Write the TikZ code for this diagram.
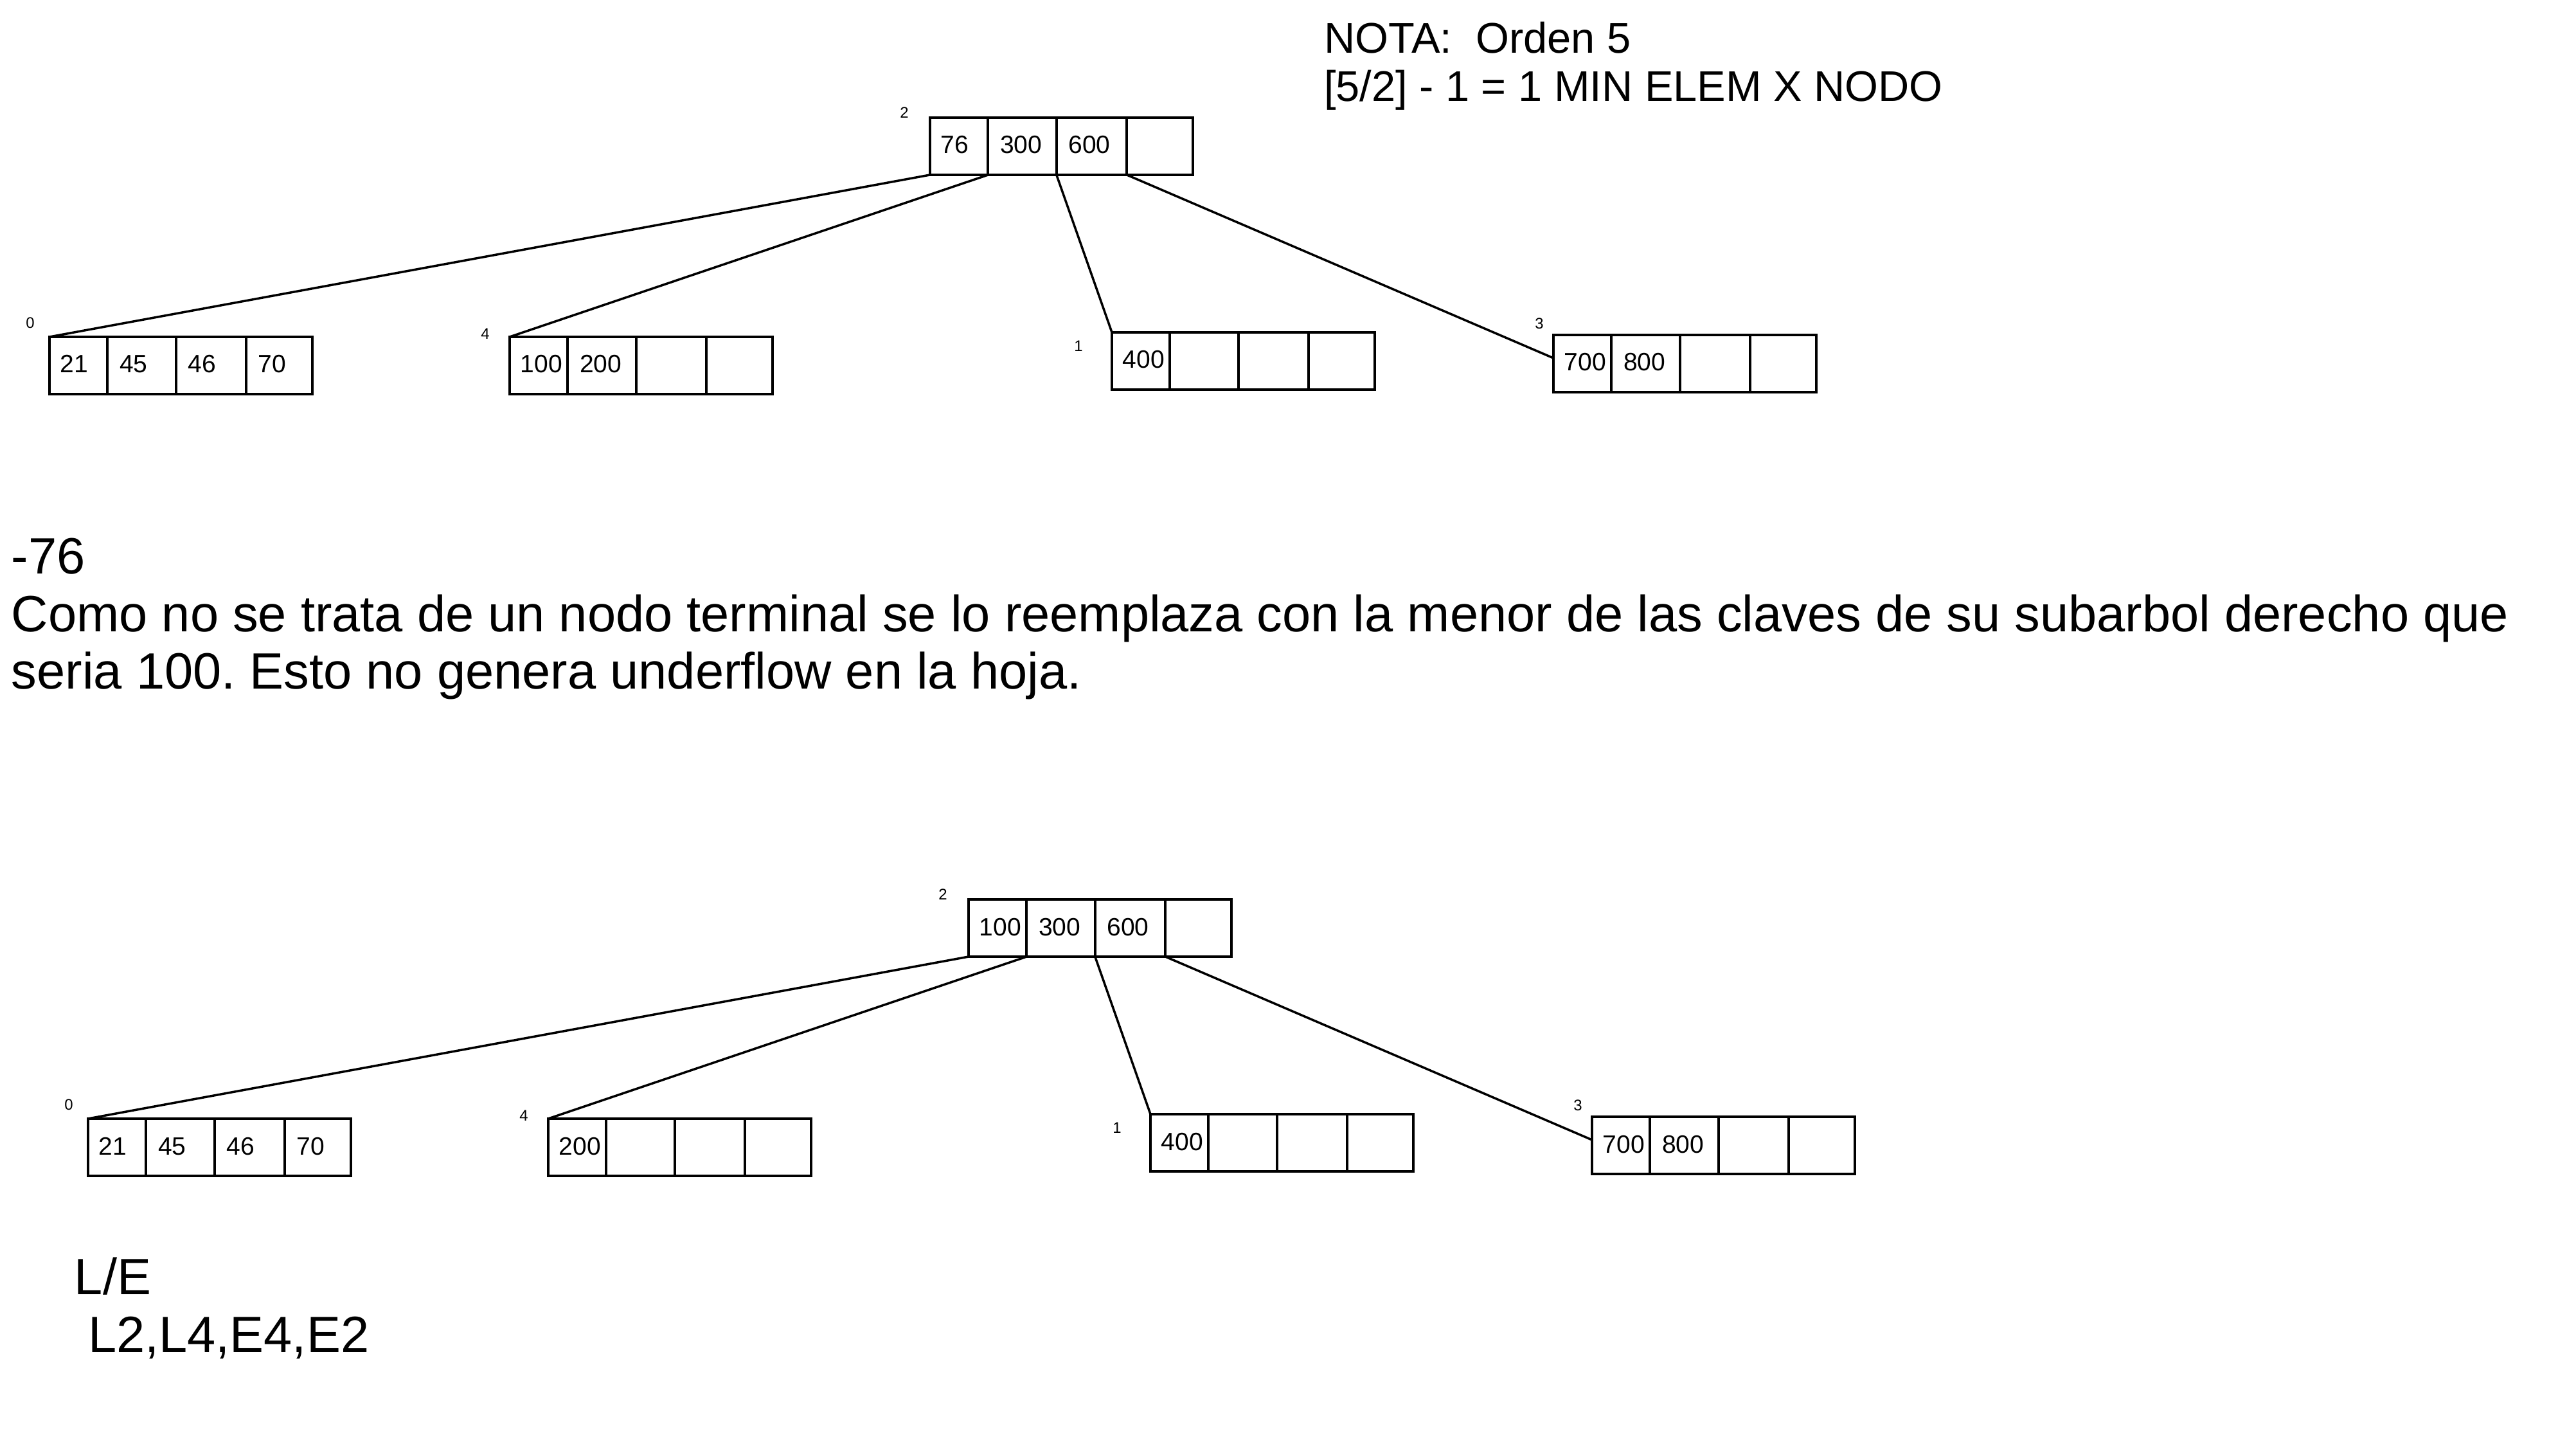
\documentclass[tikz,border=0pt]{standalone}
\usepackage{fontspec}
\setmainfont{Liberation Sans}
\usetikzlibrary{shapes.multipart}
\frenchspacing

\newcommand{\celda}[2]{\makebox[#1][l]{\rule[-0.33cm]{0pt}{0.89cm}#2}}
\newcommand{\claves}[4]{\celda{0.55cm}{#1}\nodepart{two}\celda{0.69cm}{#2}%
  \nodepart{three}\celda{0.72cm}{#3}\nodepart{four}\celda{0.67cm}{#4}}

\begin{document}
\begin{tikzpicture}[line width=0.04cm,
  nodo/.style={rectangle split,rectangle split horizontal,rectangle split parts=4,
    draw,anchor=north west,inner xsep=0.167cm,inner ysep=0pt,outer sep=0pt,
    font=\fontsize{11.1}{13}\selectfont},
  num/.style={inner sep=0pt,font=\fontsize{6.8}{8}\selectfont},
  texto/.style={anchor=base west,inner sep=0pt,font=\fontsize{22.6}{26}\selectfont},
  nota/.style={anchor=base west,inner sep=0pt,font=\fontsize{19}{21}\selectfont}]

 \useasboundingbox (0,0) rectangle (40.08,-22.32);

 \node[nota] (nota1) at (20.58,-0.83) {NOTA:\ \ Orden 5};
 \node[nota] (nota2) at (20.58,-1.58) {[5/2] - 1 = 1 MIN ELEM X NODO};

 % arbol antes de borrar
 \node[nodo] (a2) at (14.47,-1.83) {\claves{76}{300}{600}{}};
 \node[nodo] (a0) at (0.77,-5.24)  {\claves{21}{45}{46}{70}};
 \node[nodo] (a4) at (7.93,-5.24)  {\claves{100}{200}{}{}};
 \node[nodo] (a1) at (17.30,-5.17) {\claves{400}{}{}{}};
 \node[nodo] (a3) at (24.17,-5.21) {\claves{700}{800}{}{}};

 \node[num] (na2) at ([shift={(-0.40,0.08)}]a2.north west) {2};
 \node[num] (na0) at ([shift={(-0.30,0.22)}]a0.north west) {0};
 \node[num] (na4) at ([shift={(-0.38,0.05)}]a4.north west) {4};
 \node[num] (na1) at ([shift={(-0.52,-0.21)}]a1.north west) {1};
 \node[num] (na3) at ([shift={(-0.22,0.18)}]a3.north west) {3};

 \path[line width=0.035cm]
    (a2.south west)        edge (a0.north west)
    (a2.one split south)   edge (a4.north west)
    (a2.two split south)   edge (a1.north west)
    (a2.three split south) edge ([yshift=-0.36cm]a3.north west);

 \node[texto] (t1) at (0.16,-8.93) {-76};
 \node[texto] (t2) at (0.16,-9.83) {Como no se trata de un nodo terminal se lo reemplaza con la menor de las claves de su subarbol derecho que};
 \node[texto] (t3) at (0.16,-10.72) {seria 100. Esto no genera underflow en la hoja.};

 % arbol despues de borrar
 \node[nodo] (b2) at (15.07,-13.99) {\claves{100}{300}{600}{}};
 \node[nodo] (b0) at (1.37,-17.40)  {\claves{21}{45}{46}{70}};
 \node[nodo] (b4) at (8.53,-17.40)  {\claves{200}{}{}{}};
 \node[nodo] (b1) at (17.90,-17.33) {\claves{400}{}{}{}};
 \node[nodo] (b3) at (24.77,-17.37) {\claves{700}{800}{}{}};

 \node[num] (nb2) at ([shift={(-0.40,0.08)}]b2.north west) {2};
 \node[num] (nb0) at ([shift={(-0.30,0.22)}]b0.north west) {0};
 \node[num] (nb4) at ([shift={(-0.38,0.05)}]b4.north west) {4};
 \node[num] (nb1) at ([shift={(-0.52,-0.21)}]b1.north west) {1};
 \node[num] (nb3) at ([shift={(-0.22,0.18)}]b3.north west) {3};

 \path[line width=0.035cm]
    (b2.south west)        edge (b0.north west)
    (b2.one split south)   edge (b4.north west)
    (b2.two split south)   edge (b1.north west)
    (b2.three split south) edge ([yshift=-0.36cm]b3.north west);

 \node[texto] (le1) at (1.14,-20.13) {L/E};
 \node[texto] (le2) at (1.35,-21.03) {L2,L4,E4,E2};

\end{tikzpicture}
\end{document}
